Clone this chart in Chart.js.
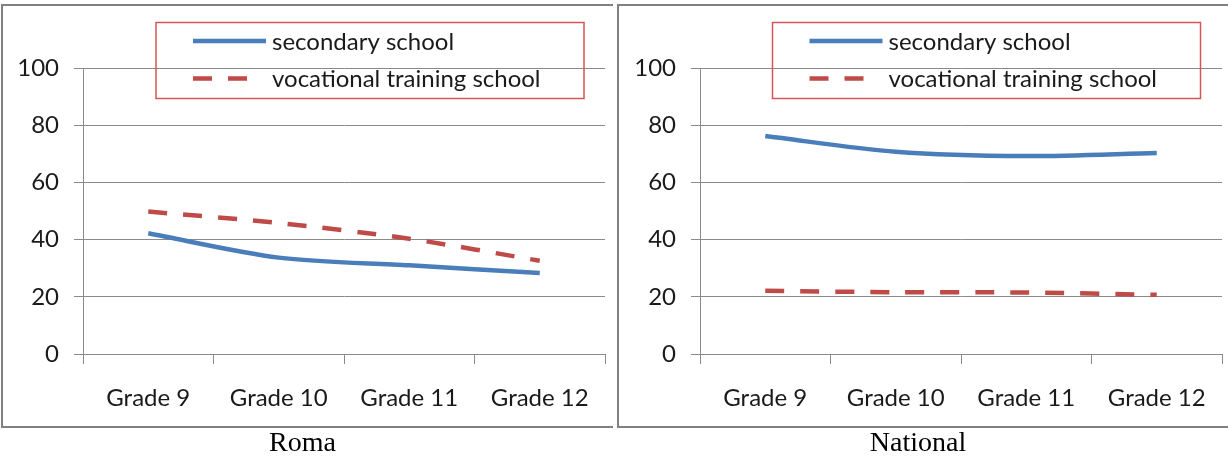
<!DOCTYPE html>
<html lang="en">
<head>
<meta charset="UTF-8">
<title>Roma vs National</title>
<script src="https://cdn.jsdelivr.net/npm/chart.js@4.4.0/dist/chart.umd.min.js"></script>
<style>
  body { margin: 0; background: #fff; }
  .wrap { position: relative; width: 1228px; height: 457px; }
  canvas { position: absolute; top: 0; }
</style>
</head>
<body>
<div class="wrap">
  <canvas id="roma" width="614" height="457" style="left:0"></canvas>
  <canvas id="national" width="614" height="457" style="left:614px"></canvas>
</div>
<script>
// data
const grades = ['Grade 9', 'Grade 10', 'Grade 11', 'Grade 12'];
const seriesNames = ['secondary school', 'vocational training school'];
const romaSecondary = [42.2, 33.7, 31.0, 28.3];
const romaVocational = [49.8, 45.8, 40.3, 32.6];
const nationalSecondary = [76.2, 70.7, 69.2, 70.3];
const nationalVocational = [22.1, 21.6, 21.5, 20.7];
const yTicks = [0, 20, 40, 60, 80, 100];

const BLUE = '#4A7EBB';
const RED = '#BE4B48';
const GRID = '#8A8A8A';
const FONT = 'Lato';

// gray frame round each panel (left, top, bottom, and right if there is one)
const panelFrame = {
    id: 'panelFrame',
    beforeDraw(chart, args, opts) {
        const ctx = chart.ctx;
        ctx.save();
        ctx.strokeStyle = '#808080';
        ctx.lineWidth = 2;
        ctx.beginPath();
        ctx.moveTo(opts.right, opts.top);
        ctx.lineTo(opts.left, opts.top);
        ctx.lineTo(opts.left, opts.bottom);
        ctx.lineTo(opts.right, opts.bottom);
        ctx.stroke();
        ctx.restore();
    }
};

// legend in a red box that sits over the plot
const boxLegend = {
    id: 'boxLegend',
    afterDraw(chart, args, opts) {
        const ctx = chart.ctx;
        ctx.save();
        ctx.strokeStyle = '#D45555';
        ctx.lineWidth = 1.5;
        ctx.strokeRect(opts.x, opts.y, opts.w, opts.h);
        chart.data.datasets.forEach((ds, i) => {
            const y = opts.y + 18.5 + i * 37.5;
            ctx.strokeStyle = ds.borderColor;
            ctx.lineWidth = ds.borderWidth;
            ctx.setLineDash(ds.borderDash || []);
            ctx.beginPath();
            ctx.moveTo(opts.x + 37, y);
            ctx.lineTo(opts.x + (ds.borderDash ? 92 : 110), y);
            ctx.stroke();
            ctx.setLineDash([]);
            ctx.fillStyle = '#1a1a1a';
            ctx.font = '24px ' + FONT;
            ctx.textBaseline = 'middle';
            ctx.fillText(ds.label, opts.x + 116, y + 1);
        });
        ctx.restore();
    }
};

function makeChart(id, title, secondary, vocational, axisX, padRight, frame, legendX) {
    return new Chart(document.getElementById(id), {
        type: 'line',
        data: {
            labels: grades,
            datasets: [{
                label: seriesNames[0],
                data: secondary,
                borderColor: BLUE,
                borderWidth: 4.5,
                pointRadius: 0,
                tension: 0.3
            }, {
                label: seriesNames[1],
                data: vocational,
                borderColor: RED,
                borderWidth: 4.5,
                borderDash: [19, 16],
                pointRadius: 0,
                tension: 0.3
            }]
        },
        options: {
            responsive: false,
            animation: false,
            layout: { padding: { top: 68, right: padRight, left: 0, bottom: 0 } },
            plugins: {
                legend: { display: false },
                tooltip: { enabled: false },
                title: {
                    display: true,
                    text: title,
                    position: 'bottom',
                    color: '#000',
                    font: { family: 'Liberation Serif', size: 28, weight: 'normal' },
                    padding: { top: 0, bottom: -3 }
                },
                panelFrame: frame,
                boxLegend: { x: legendX, y: 22.5, w: 428, h: 76 }
            },
            scales: {
                x: {
                    offset: true,
                    afterFit: s => { s.height = 72.4; },
                    grid: { offset: true, drawOnChartArea: false, color: GRID, tickLength: 10 },
                    border: { display: true, color: GRID },
                    ticks: { color: '#1a1a1a', padding: 20, maxRotation: 0, font: { family: FONT, size: 24 } }
                },
                y: {
                    min: 0,
                    max: 100,
                    afterFit: s => { s.width = axisX; },
                    afterBuildTicks: s => { s.ticks = yTicks.map(v => ({ value: v })); },
                    grid: { color: GRID, tickLength: 9 },
                    border: { display: true, color: GRID },
                    ticks: { color: '#1a1a1a', padding: 15, font: { family: FONT, size: 24 } }
                }
            }
        },
        plugins: [panelFrame, boxLegend]
    });
}

makeChart('roma', 'Roma', romaSecondary, romaVocational, 83, 9,
    { left: 2, top: 5, bottom: 427, right: 613 }, 156);
makeChart('national', 'National', nationalSecondary, nationalVocational, 86, 6,
    { left: 4, top: 5, bottom: 427, right: 614 }, 158.5);
</script>
</body>
</html>
